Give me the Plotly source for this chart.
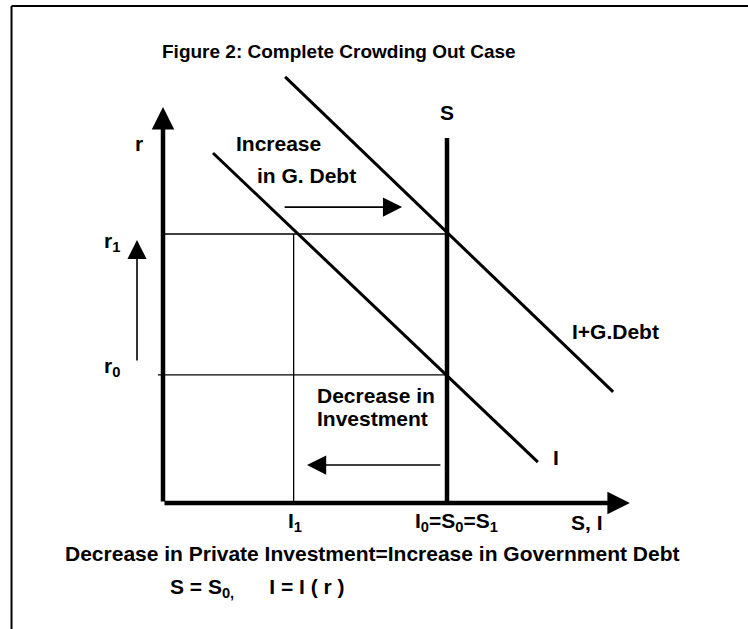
import plotly.graph_objects as go

# ---- data (economic units) ----
S0 = 10.0          # fixed saving
I1 = 4.6           # investment after crowding out
r0 = 4.76          # initial interest rate
r1 = 10.0          # new interest rate
I_x = [1.76, 13.2]          # investment schedule I(r)
I_r = [13.01, 1.52]
IG_x = [4.3, 15.85]         # I + G.Debt schedule
IG_r = [15.84, 4.13]
S_x = [S0, S0]              # saving schedule
S_r = [0.0, 13.57]
y_axis_top = 14.72
x_axis_end = 16.44

FONT = "Liberation Sans, Arial, sans-serif"
BLACK = "#000000"
FS = 21

fig = go.Figure()

def seg(x, y, w):
    fig.add_trace(go.Scatter(x=x, y=y, mode="lines",
                             line=dict(color=BLACK, width=w),
                             hoverinfo="skip", showlegend=False))

# curves
seg(I_x, I_r, 3)
seg(IG_x, IG_r, 3)
seg(S_x, S_r, 4.5)
# guide lines
seg([0, S0], [r1, r1], 1.3)
seg([-0.18, S0], [r0, r0], 1.3)
seg([I1, I1], [0, r1], 1.3)

def arrow(x0, y0, x1, y1, w, size):
    fig.add_annotation(x=x1, y=y1, ax=x0, ay=y0, xref="x", yref="y",
                       axref="x", ayref="y", text="", showarrow=True,
                       arrowhead=2, arrowwidth=w, arrowsize=size,
                       arrowcolor=BLACK, standoff=0, startstandoff=0)

# axes
arrow(0, 0, 0, y_axis_top, 4.5, 1.0)
arrow(0, 0, x_axis_end, 0, 4.5, 1.0)
# movement arrows
arrow(4.23, 11.0, 8.42, 11.0, 1.6, 2.4)
arrow(-0.915, 5.24, -0.915, 9.78, 1.6, 2.4)
arrow(9.82, 1.41, 5.07, 1.41, 1.6, 2.4)

def label(x, y, t, size=FS, xanchor="center"):
    fig.add_annotation(x=x, y=y, xref="x", yref="y",
                       text=t, showarrow=False, xanchor=xanchor, yanchor="middle",
                       font=dict(family=FONT, size=size, color=BLACK, weight="bold"))

label(6.2, 16.8, "Figure 2: Complete Crowding Out Case", 19)
label(10.0, 14.5, "S")
label(-0.85, 13.38, "r")
label(4.08, 13.38, "Increase")
label(5.07, 12.19, "in G. Debt")
label(-1.8, 9.7, "r<sub>1</sub>")
label(-1.8, 5.06, "r<sub>0</sub>")
label(15.92, 6.36, "I+G.Debt")
label(5.35, 3.98, "Decrease in", xanchor="left")
label(5.35, 3.16, "Investment", xanchor="left")
label(13.84, 1.71, "I")
label(4.65, -0.71, "I<sub>1</sub>")
label(10.35, -0.71, "I<sub>0</sub>=S<sub>0</sub>=S<sub>1</sub>")
label(14.93, -0.71, "S, I")
label(-3.52, -1.86, "Decrease in Private Investment=Increase in Government Debt", xanchor="left")
label(0.18, -3.16, "S = S<sub>0,</sub>&nbsp;&nbsp;&nbsp;&nbsp;&nbsp;&nbsp;I = I ( r )", xanchor="left")

# frame (top and left edges)
fig.add_shape(type="line", xref="paper", yref="paper", x0=0.0154, x1=1.0,
              y0=0.9905, y1=0.9905, line=dict(color=BLACK, width=2))
fig.add_shape(type="line", xref="paper", yref="paper", x0=0.0154, x1=0.0154,
              y0=0.0, y1=0.9905, line=dict(color=BLACK, width=2))

fig.update_xaxes(range=[-163 / 28.4, 585 / 28.4], visible=False, fixedrange=True)
fig.update_yaxes(range=[(503 - 629) / 26.9, 503 / 26.9], visible=False, fixedrange=True)
fig.update_layout(width=748, height=629, margin=dict(l=0, r=0, t=0, b=0),
                  paper_bgcolor="white", plot_bgcolor="white", showlegend=False)

fig.write_html("out.html", config={"displayModeBar": False},
               post_script="document.body.style.margin='0';")
